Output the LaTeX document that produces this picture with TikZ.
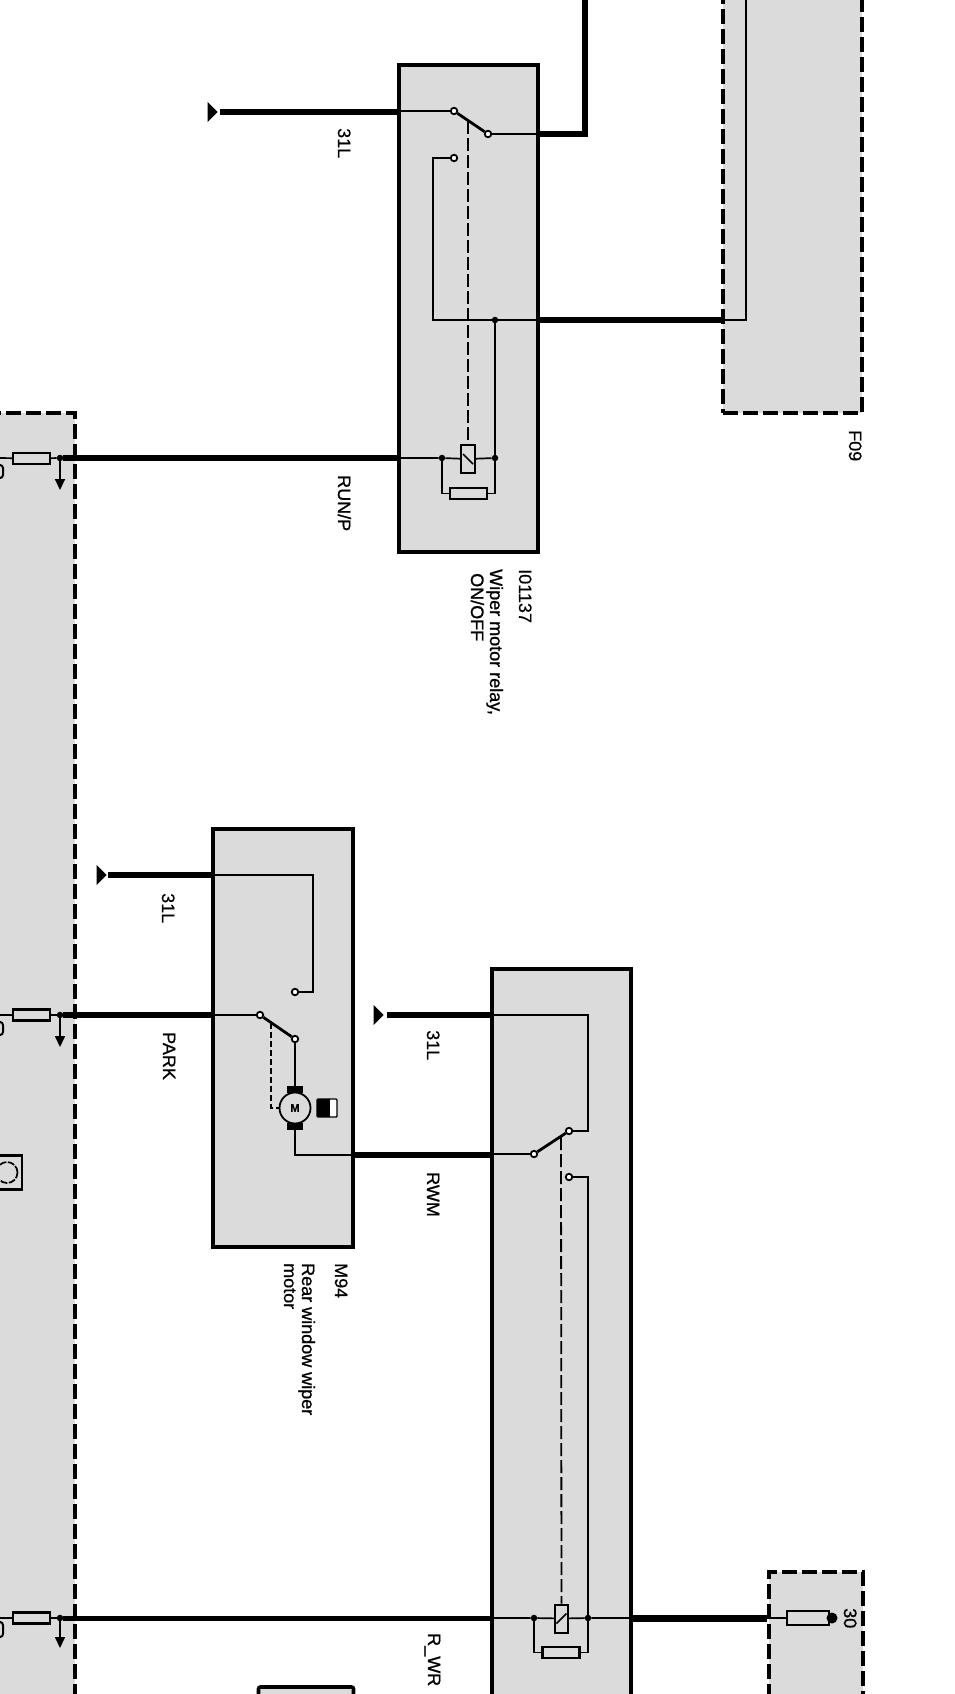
\documentclass[tikz,border=0pt]{standalone}
\usepackage{fontspec}
\setmainfont[FakeBold=0.4]{Liberation Sans}
\newfontfamily\heavyfont[FakeBold=1]{Liberation Sans}
\usetikzlibrary{arrows.meta,shapes.geometric}
\begin{document}
\begin{tikzpicture}[x=1pt, y=-1pt,
    unit/.style={draw, fill=black!14, line width=3.6pt, inner sep=0pt},
    dashunit/.style={unit, line width=4pt, dash pattern=on 15pt off 5pt},
    contact/.style={circle, draw, fill=white, line width=1.8pt, inner sep=0pt, minimum size=6.5pt},
    joint/.style={circle, fill, inner sep=0pt, minimum size=6.5pt},
    fuse/.style={rectangle, draw, fill=black!14, line width=2.2pt, inner sep=0pt, minimum width=37pt, minimum height=11pt},
    coil/.style={rectangle, draw, fill=black!14, line width=2pt, inner sep=0pt, minimum width=14pt, minimum height=28pt},
    earth/.style={isosceles triangle, isosceles triangle apex angle=90, fill, inner sep=0pt, minimum height=10pt, minimum width=14pt, anchor=apex},
    thinwire/.style={line width=1.7pt},
    wire/.style={line width=2.8pt},
    fatwire/.style={line width=5.8pt},
    earthwire/.style={line width=6.6pt},
    mech/.style={line width=1.8pt, dash pattern=on 13pt off 4pt},
    tap/.style={line width=1.8pt, -{Triangle[length=11pt,width=10pt]}},
    tag/.style={rotate=-90, anchor=base west, inner sep=0pt, font=\fontsize{18}{20}\selectfont},
    heavytag/.style={tag, font=\heavyfont\fontsize{18}{20}\selectfont}]

    \useasboundingbox (0,0) rectangle (955,1694);
    \clip (0,0) rectangle (955,1694);

    % Units
    \node[dashunit, minimum width=139pt, minimum height=473pt] (f09) at (792.5,176.5) {};
    \node[dashunit, minimum width=125pt, minimum height=1341pt] (bcm) at (12.5,1083.5) {};
    \node[dashunit, minimum width=94pt, minimum height=200pt] (f30) at (816,1672) {};
    \node[unit, minimum width=139pt, minimum height=487pt] (relay) at (468.5,308.5) {};
    \node[unit, minimum width=140pt, minimum height=418pt] (motor) at (283,1038) {};
    \node[unit, minimum width=139pt, minimum height=800pt] (rwr) at (561.5,1369) {};
    \node[unit, rounded corners=2pt, minimum width=95pt, minimum height=60pt] (lower) at (306,1717) {};

    % Relay I01137
    \node[contact] (ra) at (454,111) {};
    \node[contact] (rb) at (488,134) {};
    \node[contact] (rc) at (454,158) {};
    \node[joint] (rd) at (495,320) {};
    \node[joint] (re) at (442,458) {};
    \node[joint] (rf) at (495,458) {};
    \node[coil] (rcoil) at (468,459) {};
    \node[fuse] (rres) at (468.5,493.5) {};
    \node[earth] (ea) at (218,112) {};
    \coordinate (rarm) at (468,121);
    \coordinate (rbend) at (433,320);
    \coordinate (rtop) at (585,0);
    \coordinate (fup) at (746,0);

    % Motor M94
    \node[contact] (ma) at (260,1015) {};
    \node[contact] (mb) at (295,1039) {};
    \node[contact] (mc) at (295,992) {};
    \node[circle, draw, fill=black!14, line width=1.8pt, inner sep=0pt, minimum size=31pt, font=\bfseries\fontsize{11}{11}\selectfont] (mm) at (295,1108) {M};
    \node[rectangle, fill, inner sep=0pt, minimum width=16pt, minimum height=7pt] (mbt) at (295,1089.5) {};
    \node[rectangle, fill, inner sep=0pt, minimum width=16pt, minimum height=7pt] (mbb) at (295,1126.5) {};
    \node[rectangle, draw, fill=white, rounded corners=1pt, line width=1.4pt, inner sep=0pt, minimum width=20pt, minimum height=18pt] (mbat) at (327,1108) {};
    \node[rectangle, fill, inner sep=0pt, minimum width=13pt, minimum height=18pt] (mhalf) at (323.5,1108) {};
    \node[earth] (eb) at (107,875) {};
    \coordinate (marm) at (271,1023);
    \coordinate (mleft) at (271,1108);
    \coordinate (mbend) at (295,1155);
    \coordinate (mgnd) at (313,875);

    % Relay R_WR
    \node[contact] (wa) at (534,1154) {};
    \node[contact] (wb) at (569,1131) {};
    \node[contact] (wc) at (569,1177) {};
    \node[joint] (wd) at (534,1618) {};
    \node[joint] (we) at (588,1618) {};
    \node[coil, minimum width=13pt] (wcoil) at (561.5,1618.5) {};
    \node[fuse] (wres) at (561,1652.5) {};
    \node[earth] (ec) at (384,1015) {};
    \coordinate (warm) at (561,1137);
    \node[fuse, minimum width=42pt, minimum height=14pt] (ffuse) at (808,1618) {};
    \node[circle, fill, inner sep=0pt, minimum size=11pt] (fend) at (832,1618) {};

    % Left unit
    \node[fuse] (fa) at (31.5,458.5) {};
    \node[fuse] (fb) at (31.5,1015) {};
    \node[fuse] (fc) at (31.5,1618) {};
    \node[joint] (ja) at (60,458) {};
    \node[joint] (jb) at (60,1015) {};
    \node[joint] (jc) at (60,1618) {};
    \coordinate (ta) at (60,490);
    \coordinate (tb) at (60,1047);
    \coordinate (tc) at (60,1648);
    \coordinate (la) at (0,458);
    \coordinate (lb) at (0,1015);
    \coordinate (lc) at (0,1618);
    \node[rectangle, draw, rounded corners=3pt, line width=2pt, inner sep=0pt, minimum width=12pt, minimum height=13pt] (sa) at (-3,471.5) {};
    \node[rectangle, draw, rounded corners=3pt, line width=2pt, inner sep=0pt, minimum width=12pt, minimum height=13pt] (sb) at (-3,1028.5) {};
    \node[rectangle, draw, rounded corners=3pt, line width=2pt, inner sep=0pt, minimum width=12pt, minimum height=15pt] (sc) at (-3,1629.5) {};
    \node[rectangle, draw, line width=2.2pt, inner sep=0pt, minimum width=42pt, minimum height=34pt] (sd) at (1,1172.5) {};
    \node[circle, draw, line width=1.7pt, dash pattern=on 7pt off 1.5pt, inner sep=0pt, minimum size=21pt] (se) at (7,1172.5) {};

    % Lines
    \draw[fatwire] (rtop) |- (relay.east |- rb);
    \draw[wire] (relay.east |- rb) -- (rb);
    \draw[earthwire, shorten <=2pt] (ea.apex) -- (relay.west |- ea);
    \draw[thinwire] (relay.west |- ra) -- (ra);
    \draw[wire] (ra) -- (rb);
    \draw[wire] (rc) -| (rbend) -- (rd);
    \draw[wire] (rd) -- (relay.east |- rd);
    \draw[fatwire] (relay.east |- rd) -- (f09.west |- rd);
    \draw[wire] (f09.west |- rd) -| (fup);
    \draw[thinwire] (rd) -- (rf);
    \draw[thinwire] (relay.west |- re) -- (re) -- (rcoil) -- (rf);
    \draw[thinwire] (re) |- (rres);
    \draw[thinwire] (rf) |- (rres);
    \draw[thinwire] ([xshift=-5pt,yshift=5pt]rcoil.center) -- ([xshift=5pt,yshift=-5pt]rcoil.center);
    \draw[mech] (rarm) -- (rcoil);
    \draw[fatwire] (ja) -- (relay.west |- ja);

    \draw[earthwire, shorten <=1pt] (eb.apex) -- (motor.west |- eb);
    \draw[thinwire] (motor.west |- eb) -| (mgnd) |- (mc);
    \draw[fatwire] (jb) -- (motor.west |- jb);
    \draw[thinwire] (motor.west |- jb) -- (ma);
    \draw[wire] (ma) -- (mb);
    \draw[thinwire] (mb) -- (mbt);
    \draw[thinwire] (mbb) -- (mbend) -- (motor.east |- mbend);
    \draw[fatwire] (motor.east |- mbend) -- (rwr.west |- mbend);
    \draw[mech, dash pattern=on 6pt off 3pt, line width=2pt] (marm) -- (mleft) -- (mm);

    \draw[earthwire, shorten <=3pt] (ec.apex) -- (rwr.west |- ec);
    \draw[thinwire] (rwr.west |- ec) -| (we |- wb) -- (wb);
    \draw[wire] (rwr.west |- wa) -- (wa);
    \draw[wire] (wa) -- (wb);
    \draw[wire] (wc) -| (we);
    \draw[thinwire] (we) |- (wres);
    \draw[thinwire] (wd) |- (wres);
    \draw[mech] (warm) -- (wcoil);
    \draw[line width=5pt] (jc) -- (rwr.west |- jc);
    \draw[thinwire] (rwr.west |- wd) -- (wd) -- (wcoil) -- (we) -- (rwr.east |- we);
    \draw[thinwire] ([xshift=-5pt,yshift=-5pt]wcoil.center) -- ([xshift=5pt,yshift=5pt]wcoil.center);
    \draw[line width=7pt] (rwr.east |- we) -- (f30.west |- we);
    \draw[thinwire] (f30.west |- we) -- (ffuse);

    \draw[thinwire] (la) -- (fa) -- (ja) -- (bcm.east |- ja);
    \draw[thinwire] (lb) -- (fb) -- (jb) -- (bcm.east |- jb);
    \draw[thinwire] (lc) -- (fc) -- (jc) -- (bcm.east |- jc);
    \draw[tap] (ja) -- (ta);
    \draw[tap] (jb) -- (tb);
    \draw[tap] (jc) -- (tc);

    % Labels
    \node[tag] (lea) at (338,128) {31L};
    \node[heavytag] (lrun) at (338,475) {RUN/P};
    \node[tag] (lreln) at (519,569) {I01137};
    \node[heavytag] (lrela) at (490,569) {Wiper motor relay,};
    \node[heavytag] (lrelb) at (471,573) {ON/OFF};
    \node[tag] (lf) at (849,430) {F09};
    \node[tag] (leb) at (162,893) {31L};
    \node[heavytag] (lpark) at (163,1032) {PARK};
    \node[tag] (lmotn) at (335,1263) {M94};
    \node[heavytag] (lmota) at (302,1263) {Rear window wiper};
    \node[tag] (lmotb) at (284,1263) {motor};
    \node[tag] (lec) at (427,1030) {31L};
    \node[heavytag] (lrwm) at (427,1172) {RWM};
    \node[heavytag] (lrw) at (428,1633) {R\_WR};
    \node[heavytag] (l30) at (844,1608) {30};
\end{tikzpicture}
\end{document}
